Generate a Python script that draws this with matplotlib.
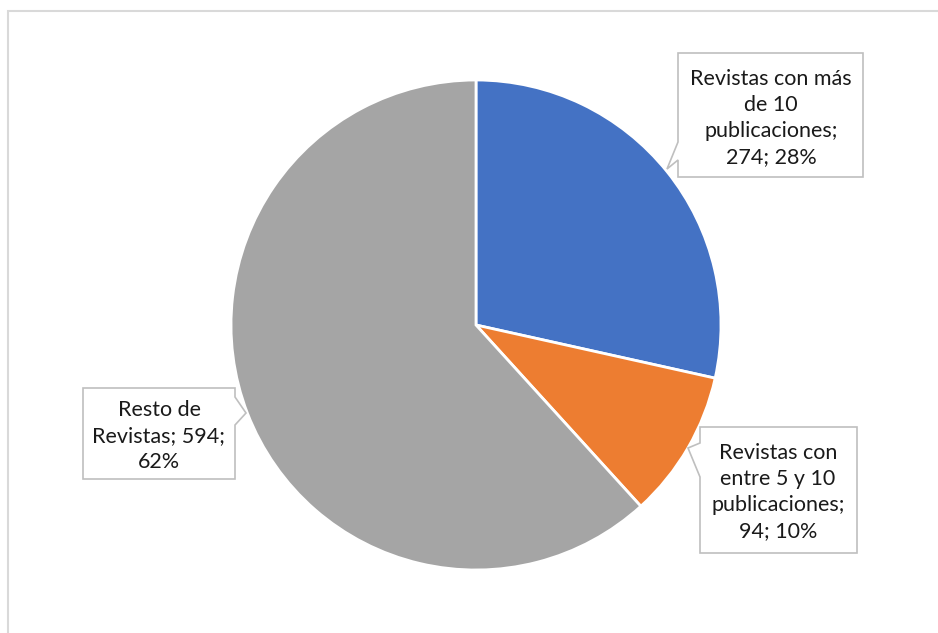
import matplotlib
matplotlib.use("Agg")
import matplotlib.pyplot as plt
from matplotlib.patches import Polygon, Rectangle

# data
labels = ["Revistas con más\nde 10\npublicaciones;", "Revistas con\nentre 5 y 10\npublicaciones;", "Resto de\nRevistas;"]
values = [274, 94, 594]
colors = ["#4472C4", "#ED7D31", "#A5A5A5"]

W, H = 938, 633

def fy(y):
    # pixel y (top-down) -> axes y (bottom-up)
    return H - y

fig = plt.figure(figsize=(W / 100, H / 100), dpi=100)
ax = fig.add_axes([0, 0, 1, 1])

# chart area border (runs off the right/bottom edges)
ax.add_patch(Rectangle((8, fy(H + 20)), W + 20, H + 20 - 11, fill=False,
                       edgecolor="#d9d9d9", linewidth=1.5))

ax.pie(values, colors=colors, startangle=90, counterclock=False,
       center=(476, fy(325)), radius=245,
       wedgeprops=dict(edgecolor="white", linewidth=2))

total = sum(values)
pct = [round(100 * v / total) for v in values]
texts = ["%s\n%d; %d%%" % (labels[0], values[0], pct[0]),
         "%s\n%d; %d%%" % (labels[1], values[1], pct[1]),
         "%s %d;\n%d%%" % (labels[2], values[2], pct[2])]

# callout box with a small pointer on one side (pixel coords)
def callout(x0, y0, x1, y1, side, a, tip, b):
    if side == "left":
        pts = [(x0, y0), (x1, y0), (x1, y1), (x0, y1), (x0, b), tip, (x0, a)]
    else:
        pts = [(x0, y0), (x1, y0), (x1, a), tip, (x1, b), (x1, y1), (x0, y1)]
    pts = [(x, fy(y)) for x, y in pts]
    ax.add_patch(Polygon(pts, closed=True, facecolor="white",
                         edgecolor="#bfbfbf", linewidth=1.2, zorder=3))

callout(678, 53, 863, 177, "left", 142, (667, 169), 160)
callout(700, 427, 857, 553, "left", 443, (688, 448), 477)
callout(83, 388, 235, 479, "right", 397, (246, 413), 425)

centers = [(771, 118), (778, 492), (159, 436)]
for t, (cx, cy) in zip(texts, centers):
    ax.text(cx, fy(cy), t, ha="center", va="center", fontsize=15.5,
            family=["Lato", "DejaVu Sans"], color="#1a1a1a",
            linespacing=1.36, zorder=4)

ax.set_xlim(0, W)
ax.set_ylim(0, H)
ax.set_aspect("auto")
ax.axis("off")

fig.savefig("out.png", dpi=100)
